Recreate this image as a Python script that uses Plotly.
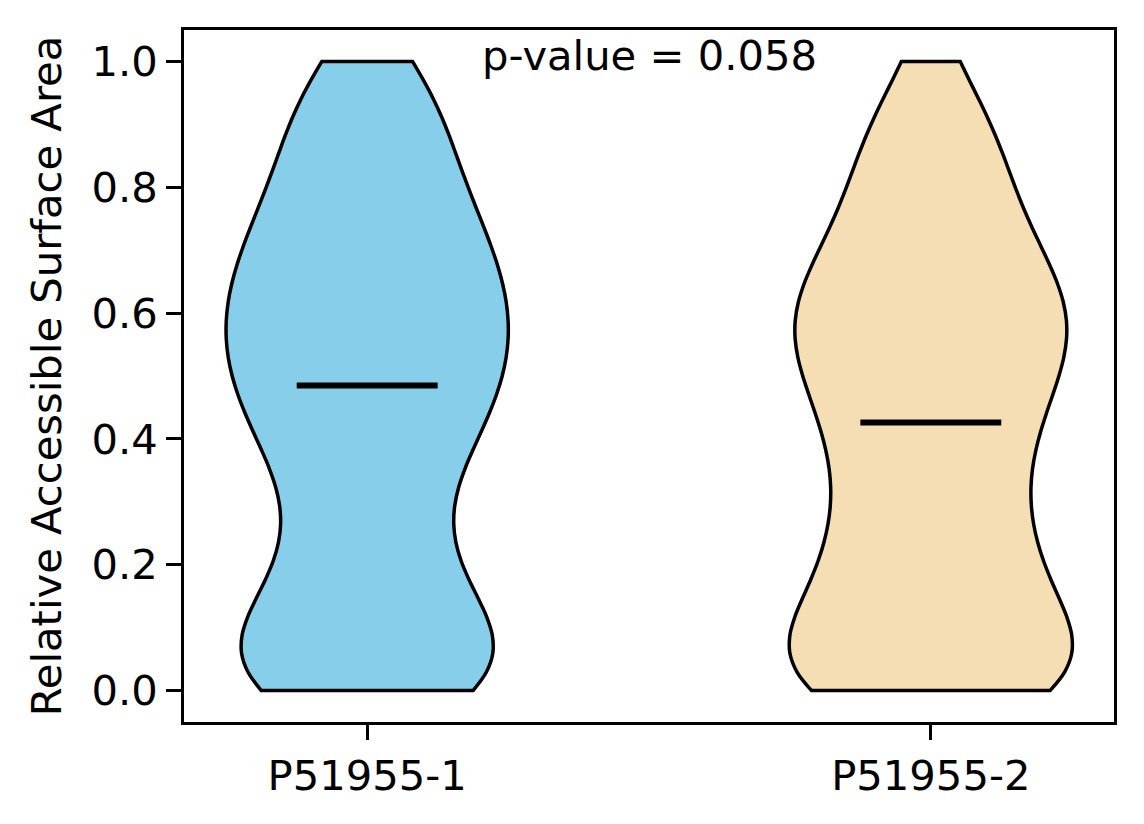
import numpy as np
import plotly.graph_objects as go

# relative accessible surface area values, one list per isoform
labels = ["P51955-1", "P51955-2"]
rsa_1 = [0.0, 0.0, 0.0, 0.0, 0.0, 0.01, 0.02, 0.03, 0.045,
         0.055, 0.065, 0.075, 0.085, 0.095,
         0.105, 0.12, 0.145,
         0.16, 0.18, 0.195,
         0.215, 0.24,
         0.265, 0.29,
         0.315, 0.34,
         0.355, 0.375, 0.395,
         0.405, 0.42, 0.435, 0.445,
         0.455, 0.47, 0.485, 0.495,
         0.505, 0.52, 0.535, 0.545,
         0.555, 0.565, 0.575, 0.585, 0.595,
         0.605, 0.62, 0.635, 0.645,
         0.655, 0.67, 0.685, 0.695,
         0.705, 0.72, 0.735, 0.745,
         0.76, 0.78, 0.795,
         0.815, 0.84,
         0.855, 0.875, 0.895,
         0.915, 0.94,
         0.96, 0.98, 1.0]
rsa_2 = [0.0, 0.0, 0.0, 0.0, 0.0, 0.0, 0.0,
         0.008, 0.018, 0.028, 0.038, 0.047,
         0.055, 0.063, 0.072, 0.08, 0.088, 0.096,
         0.105, 0.115, 0.125,
         0.158, 0.17, 0.183, 0.195,
         0.2, 0.21, 0.225, 0.24,
         0.258, 0.275, 0.292,
         0.308, 0.325, 0.342,
         0.358, 0.375, 0.392,
         0.405, 0.425, 0.427, 0.44,
         0.455, 0.468, 0.482, 0.495,
         0.505, 0.518, 0.532, 0.545,
         0.555, 0.565, 0.57, 0.575, 0.585, 0.59, 0.595,
         0.605, 0.618, 0.632, 0.645,
         0.655, 0.668, 0.682, 0.695,
         0.705, 0.718, 0.732, 0.745,
         0.765, 0.785,
         0.81, 0.83, 0.85,
         0.865, 0.88, 0.89,
         0.93, 0.95,
         1.0]
p_value = 0.058

groups = [rsa_1, rsa_2]
colors = ["#87CEEB", "#F5DEB3"]
positions = [1, 2]
fs = 41.7

fig = go.Figure()
for pos, vals, col, name in zip(positions, groups, colors, labels):
    fig.add_trace(go.Violin(
        y = vals,
        x0 = pos,
        name = name,
        width = 0.5,
        spanmode = "hard",
        bandwidth = 0.09,
        points = False,
        fillcolor = col,
        opacity = 1,
        line = dict(color = "black", width = 3.5),
        showlegend = False
    ))
    # median marker, short horizontal bar like matplotlib's violinplot
    m = np.median(vals)
    fig.add_trace(go.Scatter(
        x = [pos - 0.125, pos + 0.125],
        y = [m, m],
        mode = "lines",
        line = dict(color = "black", width = 6),
        showlegend = False,
        hoverinfo = "skip"
    ))

fig.add_annotation(
    x = 1.5, y = 1.01, xref = "x", yref = "y",
    text = "p-value = %.3f" % p_value,
    showarrow = False,
    yanchor = "middle",
    font = dict(size = fs, color = "black")
)

axis_style = dict(
    showline = True,
    mirror = True,
    linecolor = "black",
    linewidth = 3.3,
    ticks = "outside",
    ticklen = 14.6,
    tickwidth = 3.3,
    tickcolor = "black",
    showgrid = False,
    zeroline = False,
    tickfont = dict(size = fs, color = "black")
)

# page body keeps its 8px default margin, so the figure is 16px smaller
fig.update_layout(
    width = 1128,
    height = 808,
    margin = dict(l = 176, r = 22, t = 22, b = 94),
    paper_bgcolor = "white",
    plot_bgcolor = "white",
    violinmode = "overlay",
    font = dict(family = "DejaVu Sans", size = fs, color = "black"),
    xaxis = dict(
        axis_style,
        range = [0.675, 2.325],
        tickmode = "array",
        tickvals = positions,
        ticktext = labels
    ),
    yaxis = dict(
        axis_style,
        range = [-0.05, 1.05],
        tickmode = "array",
        tickvals = [0, 0.2, 0.4, 0.6, 0.8, 1.0],
        tickformat = ".1f",
        title = dict(text = "Relative Accessible Surface Area", standoff = 18,
                     font = dict(size = fs, color = "black"))
    )
)

fig.write_html("out.html")
